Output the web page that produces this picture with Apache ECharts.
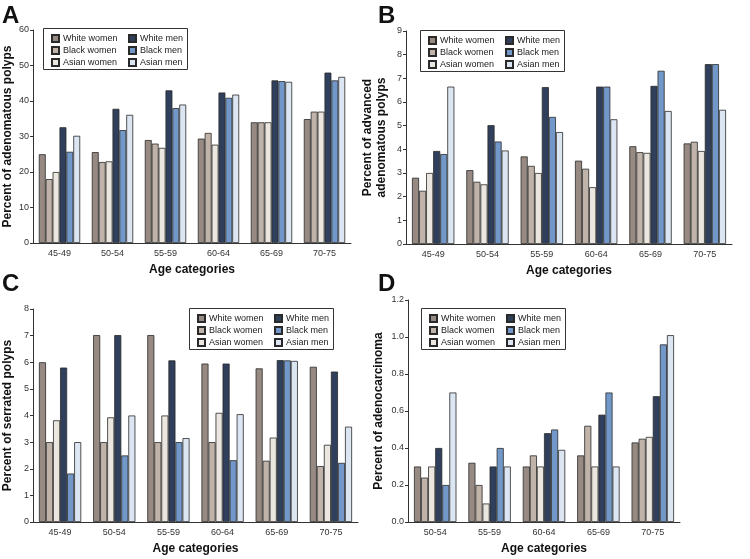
<!DOCTYPE html>
<html><head><meta charset="utf-8">
<script src="https://cdn.jsdelivr.net/npm/echarts@6/dist/echarts.min.js"></script>
<style>html,body{margin:0;padding:0;background:#fff}#c{width:750px;height:559px}</style>
</head><body><div id="c"></div>
<script>
const groups = ['White women','Black women','Asian women','White men','Black men','Asian men'];
const colors = ['#978a82','#c0b3a9','#ebe6df','#2f3f5c','#7198c8','#dce6f3'];
const agesABC = ['45-49','50-54','55-59','60-64','65-69','70-75'];
const agesD = ['50-54','55-59','60-64','65-69','70-75'];
// rows follow the order of "groups"
const adenomatous = [
  [25, 25.6, 29, 29.4, 34, 34.9],
  [18, 22.8, 28, 31, 34, 37],
  [20, 23, 26.8, 27.7, 34, 37],
  [32.6, 37.8, 43, 42.4, 45.8, 48],
  [25.7, 31.8, 38, 40.9, 45.6, 45.8],
  [30.2, 36.1, 39, 41.8, 45.4, 46.8]
];
const advanced = [
  [2.8, 3.12, 3.7, 3.52, 4.13, 4.25],
  [2.25, 2.63, 3.3, 3.18, 3.88, 4.32],
  [3.0, 2.52, 3.0, 2.4, 3.85, 3.93],
  [3.93, 5.02, 6.63, 6.65, 6.68, 7.6],
  [3.8, 4.33, 5.37, 6.65, 7.32, 7.6],
  [6.65, 3.95, 4.73, 5.27, 5.62, 5.67]
];
const serrated = [
  [6.0, 7.02, 7.02, 5.95, 5.77, 5.83],
  [3.0, 3.0, 3.0, 3.0, 2.3, 2.1],
  [3.82, 3.93, 4.0, 4.1, 3.17, 2.9],
  [5.8, 7.02, 6.07, 5.95, 6.08, 5.65],
  [1.82, 2.5, 3.0, 2.32, 6.07, 2.22],
  [3.0, 4.0, 3.15, 4.05, 6.05, 3.58]
];
const adenocarcinoma = [
  [0.3, 0.32, 0.3, 0.36, 0.43],
  [0.24, 0.2, 0.36, 0.52, 0.45],
  [0.3, 0.1, 0.3, 0.3, 0.46],
  [0.4, 0.3, 0.48, 0.58, 0.68],
  [0.2, 0.4, 0.5, 0.7, 0.96],
  [0.7, 0.3, 0.39, 0.3, 1.01]
];
const yTicksA = [0, 60, 10];
const yTicksB = [0, 9, 1];
const yTicksC = [0, 8, 1];
const yTicksD = [0, 1.2, 0.2];

const panels = [
  {letter:'A', lx:2, ly:4, grid:{left:30, top:30, width:321, height:213}, cats:agesABC, data:adenomatous, ticks:yTicksA, dec:0,
   yname:'Percent of adenomatous polyps', nameGap:18, legend:{x:43, y:28}},
  {letter:'B', lx:378, ly:4, grid:{left:406, top:31, width:326, height:213}, cats:agesABC, data:advanced, ticks:yTicksB, dec:0,
   yname:'Percent of advanced\nadenomatous polyps', nameGap:17, legend:{x:420, y:30}},
  {letter:'C', lx:2, ly:272, grid:{left:30, top:309, width:328, height:213}, cats:agesABC, data:serrated, ticks:yTicksC, dec:0,
   yname:'Percent of serrated polyps', nameGap:18, legend:{x:189, y:308}},
  {letter:'D', lx:378, ly:272, grid:{left:408, top:300, width:272, height:222}, cats:agesD, data:adenocarcinoma, ticks:yTicksD, dec:1,
   yname:'Percent of adenocarcinoma', nameGap:22, legend:{x:421, y:308}}
];

const axisCol = '#333';
const font = 'Liberation Sans, Arial, Helvetica, sans-serif';
const option = {
  backgroundColor:'#fff',
  animation:false,
  textStyle:{fontFamily:font},
  title:[], grid:[], xAxis:[], yAxis:[], series:[], legend:[], graphic:[]
};
panels.forEach((p, i) => {
  option.title.push({text:p.letter, left:p.lx, top:p.ly, padding:0,
    textStyle:{fontSize:24, fontWeight:'bold', color:'#111', fontFamily:font}});
  option.grid.push(Object.assign({containLabel:false}, p.grid));
  option.xAxis.push({type:'category', gridIndex:i, data:p.cats,
    name:'Age categories', nameLocation:'middle', nameGap:21,
    nameTextStyle:{fontSize:12, fontWeight:'bold', color:'#111', fontFamily:font},
    axisLine:{lineStyle:{color:axisCol, width:1}},
    axisTick:{alignWithLabel:true, length:3, lineStyle:{color:axisCol}},
    axisLabel:{fontSize:9, color:'#333', margin:6, fontFamily:font},
    splitLine:{show:false}});
  option.yAxis.push({type:'value', gridIndex:i, min:p.ticks[0], max:p.ticks[1], interval:p.ticks[2],
    name:p.yname, nameLocation:'middle', nameGap:p.nameGap, nameRotate:90,
    nameTextStyle:{fontSize:12, fontWeight:'bold', color:'#111', lineHeight:14, fontFamily:font},
    axisLine:{show:true, lineStyle:{color:axisCol, width:1}},
    axisTick:{show:true, length:3, lineStyle:{color:axisCol}},
    axisLabel:{fontSize:9, color:'#333', margin:4, fontFamily:font,
      formatter:v => v.toFixed(p.dec)},
    splitLine:{show:false}});
  groups.forEach((g, k) => {
    option.series.push({type:'bar', name:g, xAxisIndex:i, yAxisIndex:i, data:p.data[k],
      barGap:'0%', barCategoryGap:'22%',
      itemStyle:{color:colors[k], borderColor:'#2a2a2a', borderWidth:0.8}});
  });
  const L = p.legend;
  option.graphic.push({type:'rect', shape:{x:L.x+0.5, y:L.y+0.5, width:144, height:41},
    style:{fill:'#fff', stroke:'#333', lineWidth:1}, z:-1, silent:true});
  [0, 1].forEach(col => {
    option.legend.push({orient:'vertical', left:L.x + (col ? 85 : 8), top:L.y + 5,
      padding:0, itemGap:1, itemWidth:7, itemHeight:7, icon:'rect',
      data:groups.slice(col*3, col*3+3),
      textStyle:{fontSize:9, lineHeight:11, color:'#222', padding:[0,0,0,-1], fontFamily:font},
      selectedMode:false});
  });
});
const chart = echarts.init(document.getElementById('c'), null, {renderer:'canvas'});
chart.setOption(option);
</script></body></html>
